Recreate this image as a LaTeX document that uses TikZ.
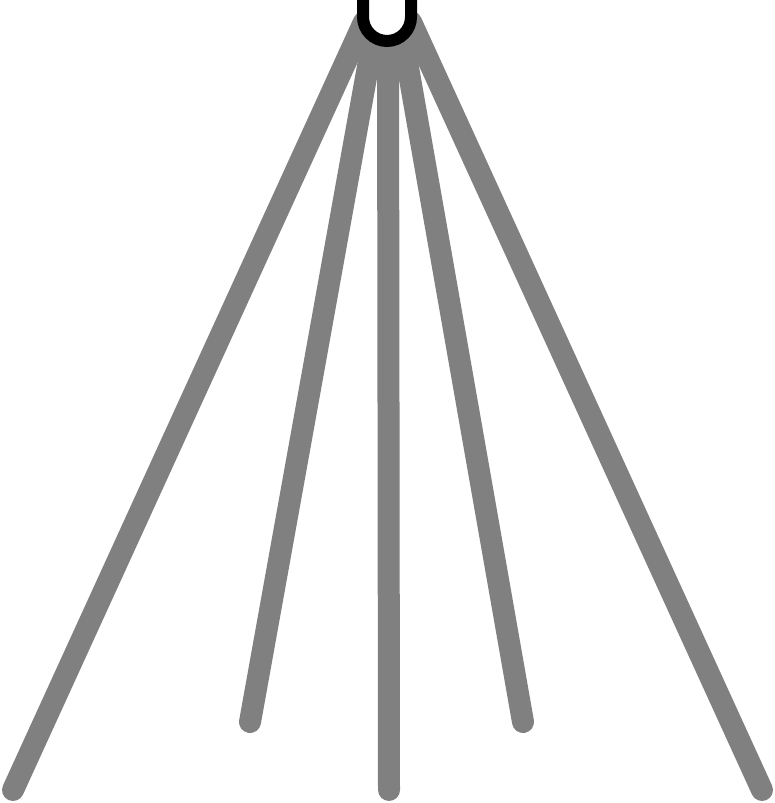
\documentclass[tikz,border=0pt]{standalone}
\usepackage{tikz}

\begin{document}
\begin{tikzpicture}[x=0.5pt,y=0.5pt]
\useasboundingbox (0,0) rectangle (775,803);

\coordinate (TA) at (364,781);
\coordinate (TB) at (376,781);
\coordinate (TC) at (388,781);
\coordinate (TD) at (400,781);
\coordinate (TE) at (411,781);

\coordinate (BA) at (13,13);
\coordinate (BB) at (250,81);
\coordinate (BC) at (389,13);
\coordinate (BD) at (523,81);
\coordinate (BE) at (762,13);

\foreach \x in {A,B,C,D,E}
  \draw[gray, line width=11pt, line cap=round] (T\x) -- (B\x);

\fill[white] (363,810) -- (363,786) arc (180:360:24) -- (411,810) -- cycle;
\draw[black, line width=6pt] (363,810) -- (363,786) arc (180:360:24) -- (411,810);

\end{tikzpicture}
\end{document}
